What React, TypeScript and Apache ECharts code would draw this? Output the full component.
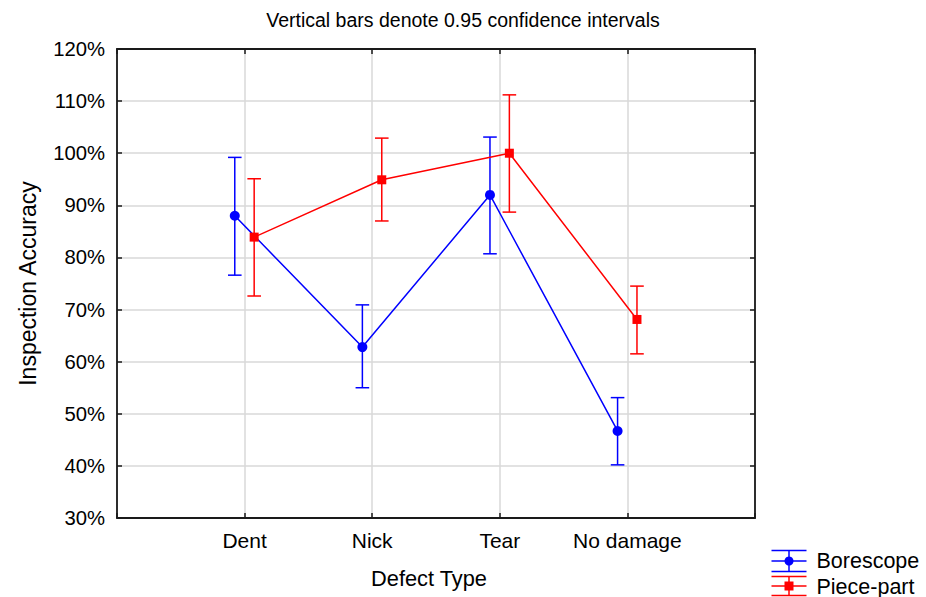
import React, { useEffect, useRef } from "react";
import * as echarts from "echarts";

const categories = ["Dent", "Nick", "Tear", "No damage"];
const yTicks = [30, 40, 50, 60, 70, 80, 90, 100, 110, 120];
const borescopeMean = [88.0, 62.8, 92.0, 46.7];
const borescopeLow = [76.6, 55.0, 80.7, 40.2];
const borescopeHigh = [99.2, 70.9, 103.1, 53.1];
const piecePartMean = [83.9, 94.9, 100.0, 68.1];
const piecePartLow = [72.6, 87.0, 88.7, 61.5];
const piecePartHigh = [95.1, 102.9, 111.2, 74.5];
const seriesNames = ["Borescope", "Piece-part"];
const titleText = "Vertical bars denote 0.95 confidence intervals";

const FONT = "'Liberation Sans', Arial, Helvetica, sans-serif";
const BLUE = "#0000ff";
const RED = "#ff0000";
const OFF_B = -0.077;
const OFF_R = 0.075;

function errorBarSeries(name: string, color: string, off: number, lows: number[], highs: number[], z: number) {
  return {
    type: "custom",
    name: name + " CI",
    xAxisIndex: 0,
    yAxisIndex: 0,
    z,
    silent: true,
    encode: { x: 0, y: [1, 2] },
    data: lows.map((lo, i) => [i + 1 + off, lo, highs[i]]),
    renderItem: (params: any, api: any) => {
      const x = api.value(0);
      const pLo = api.coord([x, api.value(1)]);
      const pHi = api.coord([x, api.value(2)]);
      const hw = 6.8;
      const style = { stroke: color, lineWidth: 1.5, fill: "none" };
      return {
        type: "group",
        children: [
          { type: "line", shape: { x1: pLo[0], y1: pLo[1], x2: pHi[0], y2: pHi[1] }, style },
          { type: "line", shape: { x1: pLo[0] - hw, y1: pLo[1], x2: pLo[0] + hw, y2: pLo[1] }, style },
          { type: "line", shape: { x1: pHi[0] - hw, y1: pHi[1], x2: pHi[0] + hw, y2: pHi[1] }, style },
        ],
      };
    },
  };
}

export default function App() {
  const ref = useRef<HTMLDivElement>(null);
  useEffect(() => {
    document.body.style.margin = "0";
    if (!ref.current) return;
    const chart = echarts.init(ref.current, undefined, { renderer: "svg" });
    const axisLineStyle = { color: "#1a1a1a", width: 1.8 };
    const splitLineStyle = { color: "#d9d9d9", width: 1.5 };
    const xBase = {
      type: "value",
      min: 0,
      max: 5,
      interval: 1,
      axisLine: { show: true, onZero: false, lineStyle: axisLineStyle },
      axisTick: { show: true, inside: true, length: 5, lineStyle: { color: "#1a1a1a", width: 1.5 } },
    };
    const yBase = {
      type: "value",
      min: yTicks[0],
      max: yTicks[yTicks.length - 1],
      interval: 10,
      axisLine: { show: true, onZero: false, lineStyle: axisLineStyle },
      axisTick: { show: true, inside: true, length: 5, lineStyle: { color: "#1a1a1a", width: 1.5 } },
    };
    const lineSeries = (name: string, color: string, off: number, vals: number[], symbol: string, size: number, z: number) => ({
      type: "line",
      name,
      xAxisIndex: 0,
      yAxisIndex: 0,
      z,
      data: vals.map((v, i) => [i + 1 + off, v]),
      symbol,
      symbolSize: size,
      showSymbol: true,
      itemStyle: { color },
      lineStyle: { color, width: 1.5 },
    });
    chart.setOption({
      animation: false,
      backgroundColor: "#ffffff",
      textStyle: { fontFamily: FONT },
      title: {
        text: titleText,
        left: "center",
        top: 5,
        textStyle: { fontFamily: FONT, fontSize: 19.5, fontWeight: "normal", color: "#000" },
      },
      grid: { left: 117, top: 49, right: 171, bottom: 79, containLabel: false },
      xAxis: [
        {
          ...xBase,
          position: "bottom",
          name: "Defect Type",
          nameLocation: "middle",
          nameGap: 49,
          nameTextStyle: { fontFamily: FONT, fontSize: 21.8, color: "#000", padding: [0, 14, 0, 0] },
          axisLabel: {
            show: true,
            margin: 12,
            fontFamily: FONT,
            fontSize: 21,
            color: "#000",
            formatter: (v: number) => categories[Math.round(v) - 1] ?? "",
          },
          splitLine: { show: true, lineStyle: splitLineStyle },
        },
        {
          ...xBase,
          position: "top",
          axisLabel: { show: false },
          splitLine: { show: false },
        },
      ],
      yAxis: [
        {
          ...yBase,
          position: "left",
          name: "Inspection Accuracy",
          nameLocation: "middle",
          nameGap: 78,
          nameTextStyle: { fontFamily: FONT, fontSize: 23, color: "#000" },
          axisLabel: { show: true, margin: 12, fontFamily: FONT, fontSize: 20.3, color: "#000", formatter: "{value}%" },
          splitLine: { show: true, lineStyle: splitLineStyle },
        },
        {
          ...yBase,
          position: "right",
          axisLabel: { show: false },
          splitLine: { show: false },
        },
      ],
      series: [
        errorBarSeries(seriesNames[0], BLUE, OFF_B, borescopeLow, borescopeHigh, 2),
        errorBarSeries(seriesNames[1], RED, OFF_R, piecePartLow, piecePartHigh, 2),
        lineSeries(seriesNames[0], BLUE, OFF_B, borescopeMean, "circle", 10, 3),
        lineSeries(seriesNames[1], RED, OFF_R, piecePartMean, "rect", 9, 4),
      ],
      graphic: [
        {
          type: "group",
          left: 769,
          top: 548,
          children: [
            { type: "line", shape: { x1: 0, y1: 0, x2: 35, y2: 0 }, style: { stroke: BLUE, lineWidth: 1.5 } },
            { type: "line", shape: { x1: 0, y1: 10.5, x2: 35, y2: 10.5 }, style: { stroke: BLUE, lineWidth: 1.5 } },
            { type: "line", shape: { x1: 0, y1: 21, x2: 35, y2: 21 }, style: { stroke: BLUE, lineWidth: 1.5 } },
            { type: "line", shape: { x1: 17.5, y1: 0, x2: 17.5, y2: 21 }, style: { stroke: BLUE, lineWidth: 1.5 } },
            { type: "circle", shape: { cx: 17.5, cy: 10.5, r: 4.5 }, style: { fill: BLUE } },
            { type: "line", shape: { x1: 0, y1: 26, x2: 35, y2: 26 }, style: { stroke: RED, lineWidth: 1.5 } },
            { type: "line", shape: { x1: 0, y1: 35.5, x2: 35, y2: 35.5 }, style: { stroke: RED, lineWidth: 1.5 } },
            { type: "line", shape: { x1: 0, y1: 45, x2: 35, y2: 45 }, style: { stroke: RED, lineWidth: 1.5 } },
            { type: "line", shape: { x1: 17.5, y1: 26, x2: 17.5, y2: 45 }, style: { stroke: RED, lineWidth: 1.5 } },
            { type: "rect", shape: { x: 13, y: 31, width: 9, height: 9 }, style: { fill: RED } },
            {
              type: "text",
              x: 45,
              y: 10.5,
              style: { text: seriesNames[0], fontFamily: FONT, fontSize: 21.5, fill: "#000", verticalAlign: "middle", align: "left" },
            },
            {
              type: "text",
              x: 45,
              y: 36,
              style: { text: seriesNames[1], fontFamily: FONT, fontSize: 21.5, fill: "#000", verticalAlign: "middle", align: "left" },
            },
          ],
        },
      ],
    });
    return () => chart.dispose();
  }, []);
  return <div ref={ref} style={{ position: "fixed", left: 0, top: 0, width: 926, height: 597 }} />;
}
